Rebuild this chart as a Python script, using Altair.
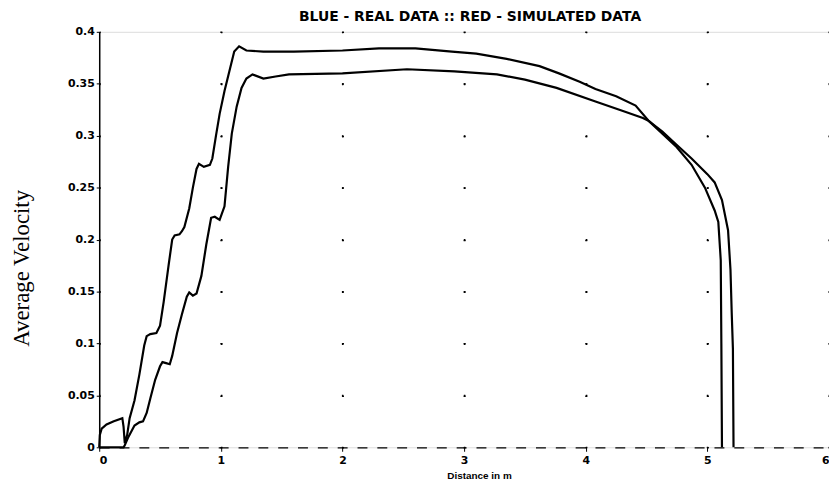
import altair as alt
import pandas as pd

# Upper curve (labelled "real" here)
real_x = [0, 0.005, 0.02, 0.06, 0.12, 0.19, 0.2, 0.21, 0.23, 0.25, 0.29, 0.33, 0.37, 0.39,
          0.42, 0.47, 0.5, 0.53, 0.57, 0.6, 0.62, 0.66, 0.68, 0.7, 0.74, 0.77, 0.8, 0.82,
          0.86, 0.91, 0.93, 0.96, 0.99, 1.03, 1.07, 1.11, 1.15, 1.21, 1.35, 1.6, 2.0, 2.3,
          2.6, 2.9, 3.1, 3.35, 3.62, 3.78, 3.95, 4.08, 4.25, 4.41, 4.52, 4.63, 4.74, 4.87,
          4.98, 5.06, 5.09, 5.11, 5.115, 5.12]
real_y = [0, 0.012, 0.018, 0.022, 0.025, 0.028, 0.02, 0.004, 0.012, 0.028, 0.045, 0.07, 0.098, 0.107,
          0.109, 0.11, 0.117, 0.14, 0.175, 0.2, 0.204, 0.205, 0.208, 0.212, 0.23, 0.25, 0.268, 0.273,
          0.27, 0.272, 0.278, 0.30, 0.321, 0.343, 0.362, 0.381, 0.386, 0.382, 0.381, 0.381, 0.382, 0.384,
          0.384, 0.381, 0.379, 0.374, 0.367, 0.36, 0.352, 0.345, 0.338, 0.329, 0.314, 0.302, 0.29, 0.272,
          0.25, 0.228, 0.217, 0.18, 0.1, 0]

# Lower curve (labelled "simulated" here)
sim_x = [0, 0.1, 0.2, 0.21, 0.24, 0.29, 0.33, 0.36, 0.39, 0.42, 0.46, 0.5, 0.52, 0.55, 0.58,
         0.6, 0.64, 0.68, 0.72, 0.74, 0.77, 0.8, 0.84, 0.88, 0.92, 0.95, 0.99, 1.03, 1.06,
         1.09, 1.13, 1.17, 1.21, 1.26, 1.35, 1.45, 1.56, 2.0, 2.53, 2.92, 3.27, 3.5, 3.76,
         4.08, 4.3, 4.47, 4.52, 4.63, 4.74, 4.87, 5.0, 5.06, 5.12, 5.17, 5.19, 5.2, 5.21, 5.215]
sim_y = [0, 0, 0, 0.002, 0.01, 0.021, 0.024, 0.025, 0.033, 0.047, 0.065, 0.078, 0.082, 0.081, 0.08,
         0.088, 0.11, 0.128, 0.145, 0.149, 0.146, 0.148, 0.165, 0.195, 0.221, 0.222, 0.219, 0.232, 0.27,
         0.302, 0.328, 0.346, 0.355, 0.359, 0.355, 0.357, 0.359, 0.36, 0.364, 0.362, 0.359, 0.354, 0.346,
         0.333, 0.324, 0.317, 0.314, 0.304, 0.292, 0.278, 0.263, 0.255, 0.238, 0.209, 0.171, 0.13, 0.095, 0]

x_ticks = [0, 1, 2, 3, 4, 5, 6]
y_ticks = [0, 0.05, 0.1, 0.15, 0.2, 0.25, 0.3, 0.35, 0.4]

rows = []
for i, (x, y) in enumerate(zip(real_x, real_y)):
    rows.append({"series": "Real", "i": i, "x": x, "y": y})
for i, (x, y) in enumerate(zip(sim_x, sim_y)):
    rows.append({"series": "Simulated", "i": i, "x": x, "y": y})
df = pd.DataFrame(rows)

label_font = "DejaVu Sans"

chart = alt.Chart(df).mark_line(strokeWidth=2.2, color="black").encode(
    x=alt.X("x:Q",
            scale=alt.Scale(domain=[0, 6], nice=False),
            axis=alt.Axis(values=x_ticks, format="d", title="Distance in m",
                          labelFont=label_font, labelFontWeight="bold", labelFontSize=11,
                          labelColor="black", labelPadding=3, tickSize=4, tickColor="black",
                          domainColor="black", domainDash=[10, 10], domainWidth=1.2,
                          grid=True, gridColor="black", gridWidth=1.5,
                          gridDash=[2, 50.375], gridDashOffset=1,
                          titleFont="Liberation Sans", titleFontWeight="bold", titleFontSize=10,
                          titleColor="black", titleX=383, titleY=28, titleBaseline="middle",
                          titleAlign="center")),
    y=alt.Y("y:Q",
            scale=alt.Scale(domain=[0, 0.4], nice=False),
            axis=alt.Axis(values=y_ticks, format=".2~f", title="Average Velocity",
                          labelFont=label_font, labelFontWeight="bold", labelFontSize=11,
                          labelColor="black", labelPadding=2, tickSize=3, tickColor="black",
                          domainColor="black", domainWidth=1.5,
                          grid=True, gridColor="black", gridWidth=1.5,
                          gridDash=[2, 120.67], gridDashOffset=1,
                          titleFont="Liberation Serif", titleFontWeight="normal", titleFontSize=23,
                          titleColor="black", titleX=-78, titleY=238, titleBaseline="middle",
                          titleAlign="center", titleAngle=270)),
    detail="series:N",
    order="i:Q",
).properties(
    width=736,
    height=419,
    title=alt.TitleParams("BLUE - REAL DATA :: RED - SIMULATED DATA",
                          font=label_font, fontWeight="bold", fontSize=14, color="black",
                          anchor="middle", frame="group", offset=2, baseline="bottom",
                          dy=14, dx=6),
    autosize="none",
    padding={"left": 92, "top": 22, "right": 0, "bottom": 36},
).configure_view(stroke=None).configure(background="white")

chart.save("out.html", embed_options={"renderer": "svg", "actions": False})
